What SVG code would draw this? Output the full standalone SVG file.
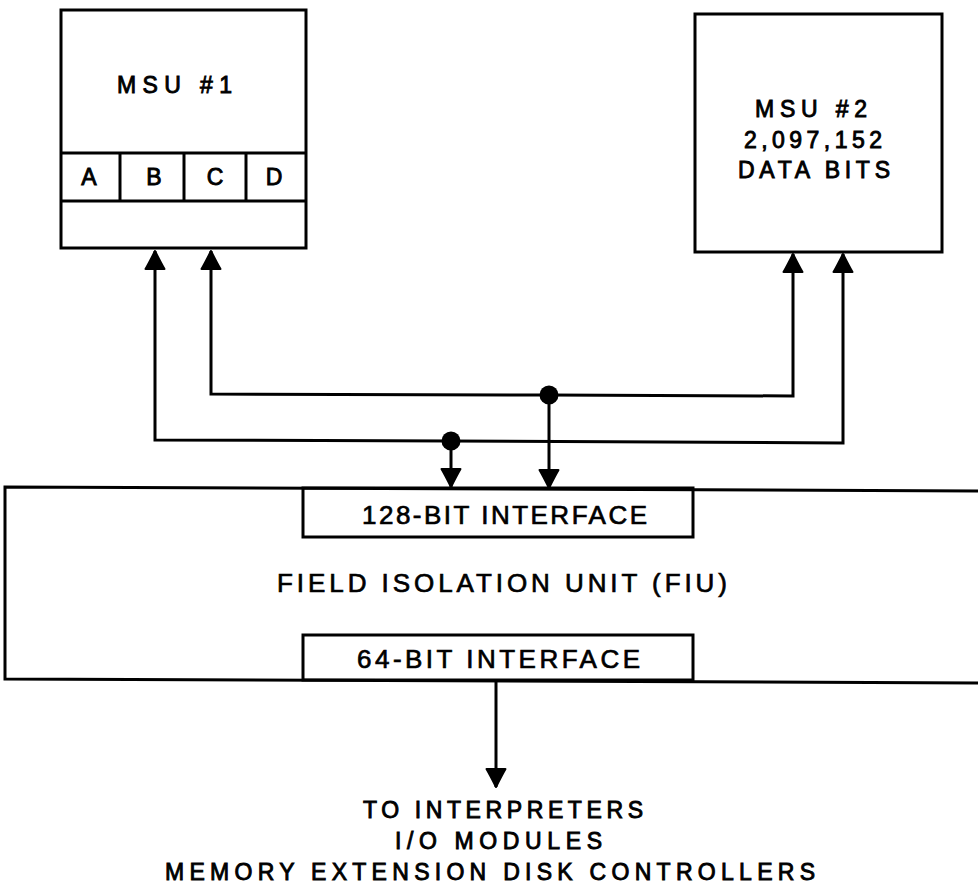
<svg xmlns="http://www.w3.org/2000/svg" width="978" height="888" viewBox="0 0 978 888">
<defs>
<marker id="arr" markerUnits="userSpaceOnUse" markerWidth="24" markerHeight="24" viewBox="-20 -12 22 24" refX="0" refY="0" orient="auto">
<path d="M0,0 C-4,-2 -12,-6 -18,-9.5 L-18,9.5 C-12,6 -4,2 0,0 Z" fill="#000" stroke="#000" stroke-width="2" stroke-linejoin="round"/>
</marker>
</defs>
<style>
.box{fill:none;stroke:#000;stroke-width:3;stroke-linejoin:miter}
.ln{fill:none;stroke:#000;stroke-width:3}
.t{font-family:"Liberation Sans","DejaVu Sans",Arial,sans-serif;font-size:23px;fill:#000;stroke:#000;stroke-width:0.9}
.ti{font-family:"Liberation Sans","DejaVu Sans",Arial,sans-serif;font-size:26px;fill:#000;stroke:#000;stroke-width:0.7}
</style>
<rect width="978" height="888" fill="#fff"/>
<g id="msu1">
<rect class="box" x="61" y="10" width="245" height="238"/>
<line class="ln" x1="61" y1="153" x2="306" y2="153"/>
<line class="ln" x1="61" y1="201" x2="306" y2="201"/>
<line class="ln" x1="120" y1="153" x2="120" y2="201"/>
<line class="ln" x1="184" y1="153" x2="184" y2="201"/>
<line class="ln" x1="246" y1="153" x2="246" y2="201"/>
<text class="t" x="117" y="93" textLength="115" lengthAdjust="spacing">MSU #1</text>
<text class="t" x="89" y="185" text-anchor="middle">A</text>
<text class="t" x="154" y="185" text-anchor="middle">B</text>
<text class="t" x="215" y="185" text-anchor="middle">C</text>
<text class="t" x="274" y="185" text-anchor="middle">D</text>
</g>
<g id="msu2">
<rect class="box" x="695" y="14" width="247" height="238"/>
<text class="t" x="755" y="117" textLength="112" lengthAdjust="spacing">MSU #2</text>
<text class="t" x="744" y="148" textLength="138" lengthAdjust="spacing">2,097,152</text>
<text class="t" x="738" y="178" textLength="152" lengthAdjust="spacing">DATA BITS</text>
</g>
<g id="fiu">
<path class="box" d="M978,491 L5,487 L5,679 L978,683"/>
<text class="ti" x="277" y="592" textLength="450" lengthAdjust="spacing">FIELD ISOLATION UNIT (FIU)</text>
</g>
<g id="if128">
<rect class="box" x="303" y="488" width="390" height="49"/>
<text class="ti" x="362" y="524" textLength="285" lengthAdjust="spacing">128-BIT INTERFACE</text>
</g>
<g id="if64">
<rect class="box" x="303" y="635" width="390" height="45"/>
<text class="ti" x="357" y="668" textLength="283" lengthAdjust="spacing">64-BIT INTERFACE</text>
</g>
<g id="dest">
<text class="t" x="363" y="818" textLength="280" lengthAdjust="spacing">TO INTERPRETERS</text>
<text class="t" x="395" y="849" textLength="207" lengthAdjust="spacing">I/O MODULES</text>
<text class="t" x="165" y="880" textLength="650" lengthAdjust="spacing">MEMORY EXTENSION DISK CONTROLLERS</text>
</g>
<g id="connectors">
<path class="ln" d="M451,441 L155,440 L155,251" marker-end="url(#arr)"/>
<path class="ln" d="M451,441 L843,443 L843,254" marker-end="url(#arr)"/>
<path class="ln" d="M549,395 L211,394 L211,251" marker-end="url(#arr)"/>
<path class="ln" d="M549,395 L793,396 L793,254" marker-end="url(#arr)"/>
<path class="ln" d="M451,441 L451,487" marker-end="url(#arr)"/>
<path class="ln" d="M549,395 L549,488" marker-end="url(#arr)"/>
<path class="ln" d="M496,681 L496,787" marker-end="url(#arr)"/>
<circle cx="451" cy="441" r="9.5" fill="#000"/>
<circle cx="549" cy="395" r="9.5" fill="#000"/>
</g>
</svg>
